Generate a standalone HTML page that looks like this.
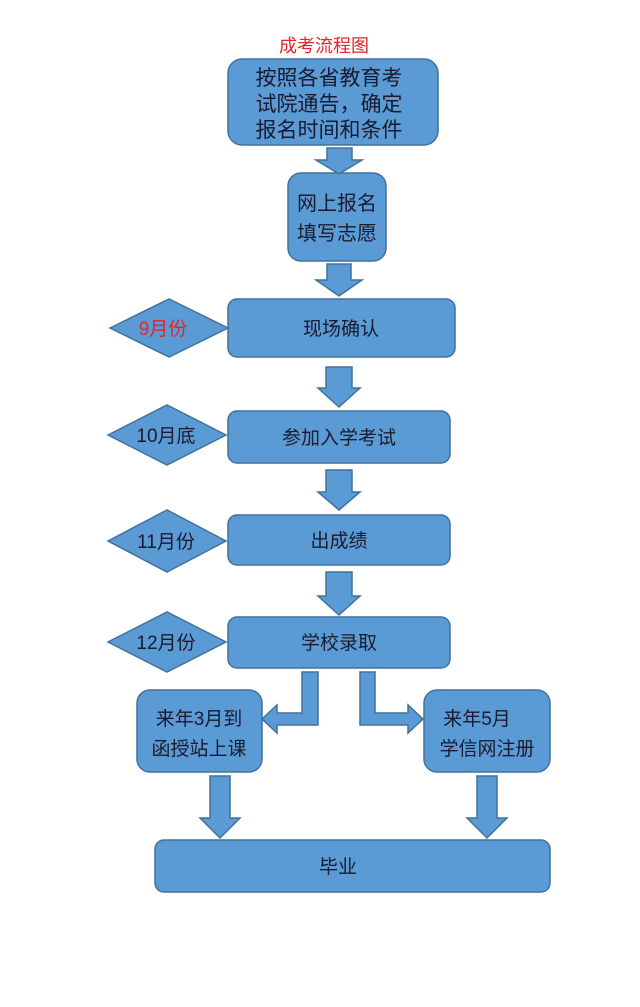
<!DOCTYPE html>
<html><head><meta charset="utf-8"><style>
html,body{margin:0;padding:0;background:#fff;}
svg{display:block;}
text{font-family:"Liberation Sans","Noto Sans CJK SC",sans-serif;fill:#1a1a2e;}
</style></head><body>
<svg width="640" height="1007" viewBox="0 0 640 1007" xmlns="http://www.w3.org/2000/svg">
<g fill="#5b9bd5" stroke="#41719c" stroke-width="1.5">
<rect x="228" y="59" width="210" height="86" rx="14"/>
<rect x="288" y="173" width="98" height="88" rx="13"/>
<rect x="228" y="299" width="227" height="58" rx="9"/>
<rect x="228" y="411" width="222" height="52" rx="9"/>
<rect x="228" y="515" width="222" height="50" rx="9"/>
<rect x="228" y="617" width="222" height="51" rx="9"/>
<rect x="137" y="690" width="125" height="82" rx="13"/>
<rect x="424" y="690" width="126" height="82" rx="13"/>
<rect x="155" y="840" width="395" height="52" rx="9"/>
<polygon points="110,328 169,299 228,328 169,357"/>
<polygon points="108,435 167,405 226,435 167,465"/>
<polygon points="108,541 167,510 226,541 167,572"/>
<polygon points="108,642 167,612 226,642 167,672"/>
<polygon points="327,148 352,148 352,160 362,160 339,174 316,160 327,160"/>
<polygon points="327,264 351,264 351,280 362,280 339,296 316,280 327,280"/>
<polygon points="326,367 352,367 352,388 360,388 339,407 318,388 326,388"/>
<polygon points="326,470 352,470 352,492 360,492 339,510 318,492 326,492"/>
<polygon points="326,572 352,572 352,596 360,596 339,615 318,596 326,596"/>
<polygon points="210,776 230,776 230,818 240,818 220,838 200,818 210,818"/>
<polygon points="477,776 497,776 497,818 507,818 487,838 467,818 477,818"/>
<polygon points="302,672 318,672 318,725 277,725 277,733 262,719 277,705 277,713 302,713"/>
<polygon points="360,672 375,672 375,713 408,713 408,705 423,719 408,733 408,725 360,725"/>
</g>
<text x="324" y="52" font-size="18" style="fill:#e0262b" text-anchor="middle">成考流程图</text>
<g font-size="19" text-anchor="middle">
<text x="329" y="85" font-size="21">按照各省教育考</text>
<text x="329" y="111" font-size="21">试院通告，确定</text>
<text x="329" y="137" font-size="21">报名时间和条件</text>
<text x="337" y="210" font-size="20">网上报名</text>
<text x="337" y="240" font-size="20">填写志愿</text>
<text x="341" y="335">现场确认</text>
<text x="339" y="444">参加入学考试</text>
<text x="339" y="547">出成绩</text>
<text x="339" y="649">学校录取</text>
<text x="199" y="725">来年3月到</text>
<text x="199" y="755">函授站上课</text>
<text x="477" y="725">来年5月</text>
<text x="487" y="755">学信网注册</text>
<text x="338" y="873">毕业</text>
<text x="163" y="335" style="fill:#e0262b">9月份</text>
<text x="166" y="442">10月底</text>
<text x="166" y="548">11月份</text>
<text x="166" y="649">12月份</text>
</g>
</svg>
</body></html>
